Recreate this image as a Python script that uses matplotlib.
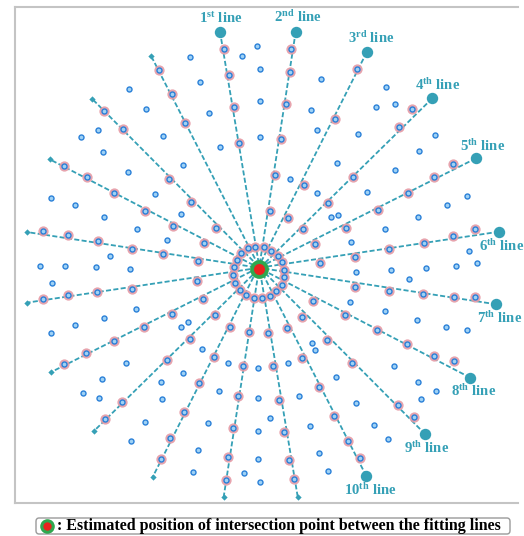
import matplotlib
matplotlib.use("Agg")
import matplotlib.pyplot as plt
from matplotlib.patches import FancyBboxPatch

plt.rcParams["mathtext.fontset"] = "custom"
plt.rcParams["mathtext.rm"] = "Liberation Serif:bold"
plt.rcParams["mathtext.bf"] = "Liberation Serif:bold"
plt.rcParams["mathtext.it"] = "Liberation Serif:bold"

# Estimated intersection of the fitted lines (plane coordinates, y downwards)
center = (259.3, 269.3)

# Fitted lines: labelled end (head) and opposite end (tail)
line_names = ["1", "2", "3", "4", "5", "6", "7", "8", "9", "10"]
line_suffix = ["st", "nd", "rd", "th", "th", "th", "th", "th", "th", "th"]
head_x = [220.0, 295.7, 366.7, 432.3, 476.0, 499.0, 496.3, 470.3, 425.3, 366.3]
head_y = [31.7, 31.7, 52.3, 98.3, 158.3, 231.7, 304.3, 377.7, 434.3, 476.0]
tail_x = [297.7, 223.7, 152.7, 94.3, 50.7, 26.7, 26.7, 49.7, 92.0, 151.0]
tail_y = [496.7, 496.7, 477.0, 430.7, 372.3, 302.7, 232.0, 159.3, 98.7, 55.7]
label_x = [221, 298, 371, 438, 482.5, 501.5, 500.0, 473.3, 427, 370.5]
label_y = [18.3, 16.7, 38.3, 85, 145.7, 246, 318, 390.7, 448.5, 490]

# Measured points used for the fitting
fit_x = [
    248.3, 255.5, 264.0, 271.3, 277.9, 282.0, 284.3, 284.3, 281.7, 276.5,
    269.9, 262.0, 254.0, 246.3, 240.2, 235.5, 233.5, 233.8, 236.8, 241.5,
    223.7, 229.3, 234.0, 239.3,
    291.3, 290.3, 286.0, 280.7, 275.0, 269.7,
    357.0, 335.3, 303.7, 288.0,
    412.3, 399.0, 353.0, 327.7, 303.2,
    452.7, 434.3, 407.7, 377.7, 346.0, 314.7,
    474.7, 453.3, 424.0, 389.3, 355.0, 320.2,
    475.0, 453.7, 423.3, 389.3, 355.0,
    454.3, 434.0, 407.3, 376.7, 344.7, 313.5,
    414.3, 397.7, 351.7, 327.0, 301.9,
    359.7, 347.7, 334.0, 318.7, 301.7, 286.7,
    268.3, 272.7, 278.7, 284.0, 289.0, 294.3,
    248.7, 243.3, 238.0, 233.0, 228.0, 226.3,
    230.0, 214.0, 199.3, 183.9, 170.0, 160.7,
    214.7, 189.7, 167.3, 121.7, 105.3,
    203.5, 171.7, 144.0, 113.7, 86.3, 64.3,
    197.3, 132.0, 97.3, 67.7, 43.0,
    198.1, 163.3, 131.8, 97.7, 68.0, 43.0,
    204.0, 173.0, 144.7, 114.0, 87.0, 63.7,
    215.8, 190.8, 168.7, 122.7, 103.7,
    184.9, 171.7, 158.7,
]
fit_y = [
    248.3, 247.3, 247.3, 250.5, 255.5, 262.3, 269.6, 277.2, 284.5, 290.7,
    295.5, 297.7, 297.8, 294.5, 289.5, 283.0, 275.2, 267.4, 260.2, 252.8,
    49.3, 75.0, 107.0, 142.7,
    48.7, 71.7, 103.7, 139.0, 175.3, 211.3,
    69.0, 119.3, 185.0, 217.7,
    109.0, 127.3, 176.7, 202.8, 229.2,
    163.7, 177.0, 192.7, 210.3, 228.3, 244.3,
    229.0, 235.7, 242.7, 249.3, 256.7, 263.0,
    297.0, 297.0, 294.3, 291.0, 287.0,
    361.3, 355.7, 343.7, 330.3, 315.0, 300.9,
    417.0, 404.7, 363.0, 340.0, 316.5,
    457.7, 441.0, 416.0, 387.3, 357.7, 327.5,
    332.7, 366.3, 400.0, 432.3, 460.0, 478.7,
    332.3, 366.3, 396.0, 428.3, 456.7, 480.0,
    326.7, 356.7, 383.0, 412.2, 437.7, 459.0,
    314.6, 338.7, 359.7, 402.0, 419.3,
    299.3, 314.3, 327.3, 341.0, 352.7, 364.3,
    280.5, 288.7, 292.3, 295.3, 299.3,
    261.3, 254.2, 248.5, 241.0, 235.0, 231.3,
    242.9, 226.3, 210.7, 192.7, 177.3, 166.3,
    227.5, 202.0, 178.7, 129.0, 110.7,
    122.5, 93.7, 70.3,
]

# Remaining detected points (not on any fitted line)
other_x = [
    129.3, 146.0, 98.0, 81.3, 163.3, 103.3, 127.7, 183.5, 155.3, 50.7,
    75.3, 104.3, 136.7, 180.7, 166.7,
    190.0, 242.3, 257.3, 259.7, 199.7, 320.7, 209.3, 259.7, 311.0, 317.0,
    220.0, 259.7, 337.3, 289.7, 317.0, 331.3, 338.0,
    386.3, 375.7, 394.7, 357.7, 435.0, 419.0, 394.7, 367.0, 467.0, 447.0,
    418.0, 385.3, 351.3, 469.3,
    110.3, 40.3, 65.3, 96.0, 130.3, 52.0, 136.3, 103.7, 75.0, 51.3,
    126.3, 102.0, 161.0, 83.0, 99.3, 162.3, 144.7, 131.3,
    180.7, 188.0, 201.7, 182.7, 228.0, 258.0, 288.0, 312.0, 315.3, 336.3,
    218.7, 258.0, 299.0, 208.0, 270.3, 258.0, 309.7, 198.3, 258.0, 319.0,
    193.0, 243.7, 260.3, 328.0, 350.0,
    356.0, 391.3, 425.7, 456.3, 477.3, 409.3, 384.7, 417.3, 446.3, 467.3,
    393.7, 418.0, 436.3, 420.7, 356.3, 374.0, 388.3,
]
other_y = [
    88.7, 109.0, 129.7, 137.0, 136.0, 152.3, 171.7, 165.0, 193.7, 198.3,
    205.3, 217.3, 229.3, 213.5, 240.0,
    57.0, 56.3, 46.3, 69.3, 82.0, 79.3, 113.3, 101.3, 109.7, 129.7,
    147.3, 137.3, 163.0, 179.3, 193.0, 217.0, 215.0,
    87.0, 107.0, 104.3, 133.7, 134.7, 150.7, 170.3, 192.3, 195.7, 205.3,
    217.0, 229.3, 242.0, 250.5,
    256.0, 265.7, 265.7, 267.0, 269.0, 282.7, 309.0, 317.7, 325.0, 332.7,
    362.7, 378.7, 381.7, 393.3, 397.7, 399.0, 421.7, 441.3,
    327.3, 321.7, 349.0, 372.7, 362.7, 368.0, 363.3, 342.7, 350.0, 376.7,
    391.0, 397.7, 395.7, 422.7, 418.3, 430.7, 426.0, 449.7, 459.0, 452.7,
    471.7, 472.7, 482.3, 471.0, 301.7,
    272.3, 270.3, 268.3, 266.3, 263.3, 279.3, 311.0, 320.0, 327.0, 330.0,
    366.0, 381.7, 391.0, 399.3, 402.7, 424.7, 439.3,
]

TEAL = "#35a0b6"
BLUE_EDGE = "#2a80d8"
BLUE_FACE = "#9fd2f5"
HALO = "#e59aa5"

fig = plt.figure(figsize=(5.24, 5.36), dpi=100)
ax = fig.add_axes([15 / 524, 33 / 536, 503 / 524, 496 / 536])
ax.set_xlim(15, 518)
ax.set_ylim(503, 7)
ax.set_xticks([])
ax.set_yticks([])
for side in ("left", "top", "bottom"):
    ax.spines[side].set_color("#c4c4c4")
    ax.spines[side].set_linewidth(1.5)
ax.spines["right"].set_visible(False)

# other detected points
ax.plot(other_x, other_y, "o", ms=3.6, mfc=BLUE_FACE, mec=BLUE_EDGE,
        mew=1.0, ls="none", zorder=2)

# fitted lines
for hx, hy, tx, ty in zip(head_x, head_y, tail_x, tail_y):
    ax.plot([hx, tx], [hy, ty], color=TEAL, lw=1.3, dashes=(2.8, 1.3),
            zorder=3)
ax.plot(tail_x, tail_y, "D", ms=3.2, color=TEAL, mec="none", ls="none",
        zorder=4)
ax.plot(head_x, head_y, "o", ms=8.2, color=TEAL, mec="none", ls="none",
        zorder=4)

# points used for fitting: reddish halo with a blue dot
ax.plot(fit_x, fit_y, "o", ms=7.4, mfc=HALO, mec="none", alpha=0.9,
        ls="none", zorder=5)
ax.plot(fit_x, fit_y, "o", ms=3.6, mfc=BLUE_FACE, mec=BLUE_EDGE, mew=1.0,
        ls="none", zorder=6)

# estimated intersection
ax.plot([center[0]], [center[1]], "o", ms=13.5, color="#2fa84f", mec="none",
        zorder=7)
ax.plot([center[0]], [center[1]], "o", ms=8.0, color="#e8231e", mec="none",
        zorder=8)

# line labels
for n, s, lx, ly in zip(line_names, line_suffix, label_x, label_y):
    ax.text(lx, ly, n + r"$^{\rm " + s + "}$ line", color=TEAL,
            family="Liberation Serif", weight="bold", fontsize=10.6,
            ha="center", va="center", zorder=9)

# caption box
box = FancyBboxPatch((36 / 524, 2 / 536), 474 / 524, 16 / 536,
                     boxstyle="round,pad=0,rounding_size=0.006",
                     transform=fig.transFigure, fc="white", ec="#9a9a9a",
                     lw=1.0)
fig.patches.append(box)
fig.lines.append(plt.Line2D([47 / 524], [10 / 536], marker="o", ms=10.5,
                            color="#2fa84f", mec="none",
                            transform=fig.transFigure))
fig.lines.append(plt.Line2D([47 / 524], [10 / 536], marker="o", ms=6.0,
                            color="#e8231e", mec="none",
                            transform=fig.transFigure))
fig.text(57 / 524, 10 / 536,
         ": Estimated position of intersection point between the fitting lines",
         family="Liberation Serif", weight="bold", fontsize=11.5,
         ha="left", va="center", color="black")

fig.savefig("out.png", dpi=100)
